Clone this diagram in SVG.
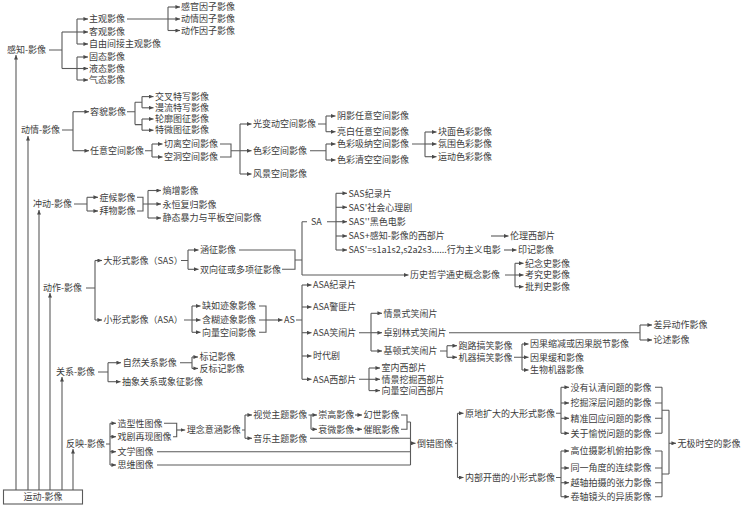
<svg xmlns="http://www.w3.org/2000/svg" width="747" height="507" viewBox="0 0 747 507">
<style>
.t{font-family:"Noto Sans CJK SC","Noto Sans",sans-serif;font-size:9px;fill:#3c3c3c}
.l{fill:none;stroke:#5a5a5a;stroke-width:1.1}
.a{fill:none;stroke:#5a5a5a;stroke-width:1.1;marker-end:url(#ah)}
</style>
<defs>
<marker id="ah" viewBox="0 0 8 7" markerWidth="4.6" markerHeight="4" refX="8" refY="3.5" markerUnits="userSpaceOnUse" orient="auto"><path d="M0,0 L8,3.5 L0,7 z" fill="#4a4a4a"/></marker>
</defs>
<rect width="747" height="507" fill="#fff"/>
<g id="connectors">
<path class="a" d="M16,490 V55"/><path class="a" d="M28,490 V136"/><path class="a" d="M39,490 V210"/><path class="a" d="M50,490 V293"/><path class="a" d="M62,490 V377"/><path class="a" d="M73,490 V449"/>
<path class="l" d="M49,50 H62 M62,32 V68.5 M77,19 V44 M77,57 V80"/>
<path class="a" d="M62,32 H88"/><path class="a" d="M77,19 H88"/><path class="a" d="M77,44 H88"/><path class="a" d="M62,68.5 H88"/><path class="a" d="M77,57 H88"/><path class="a" d="M77,80 H88"/>
<path class="l" d="M127,19 H168 M168,7 V30.5"/>
<path class="a" d="M168,7 H180"/><path class="a" d="M168,19 H180"/><path class="a" d="M168,30.5 H180"/>
<path class="l" d="M62,130 H73 M73,111.7 V150.7"/>
<path class="a" d="M73,111.7 H89"/><path class="a" d="M73,150.7 H89"/>
<path class="l" d="M127,111.7 H135 M135,102.2 V124.6 M135,102.2 H142 M135,124.6 H142 M142,96.6 V107.8 M142,119 V130.2"/>
<path class="a" d="M142,96.6 H153.5"/><path class="a" d="M142,107.8 H153.5"/><path class="a" d="M142,119 H153.5"/><path class="a" d="M142,130.2 H153.5"/>
<path class="l" d="M145,150.7 H152 M152,144 V157"/>
<path class="a" d="M152,144 H162.5"/><path class="a" d="M152,157 H162.5"/>
<path class="l" d="M220,144 H231 V157 H220 M231,150.7 H240 M240,124 V174"/>
<path class="a" d="M240,124 H251.5"/><path class="a" d="M240,150.7 H251.5"/><path class="a" d="M240,174 H251.5"/>
<path class="l" d="M318,124 H326 M326,116 V131.7 M310,150.7 H326 M326,144 V160"/>
<path class="a" d="M326,116 H335.5"/><path class="a" d="M326,131.7 H335.5"/><path class="a" d="M326,144 H335.5"/><path class="a" d="M326,160 H335.5"/>
<path class="l" d="M412,144 H425 M425,132 V156.7"/>
<path class="a" d="M425,132 H436.5"/><path class="a" d="M425,144 H436.5"/><path class="a" d="M425,156.7 H436.5"/>
<path class="l" d="M74,204 H87 M87,197.3 V211"/>
<path class="a" d="M87,197.3 H98"/><path class="a" d="M87,211 H98"/>
<path class="l" d="M137,197.3 H143 V211 H137 M143,204 H148 M148,190.5 V218"/>
<path class="a" d="M148,190.5 H161"/><path class="a" d="M148,204 H161"/><path class="a" d="M148,218 H161"/>
<path class="l" d="M86,288 H95 M95,260.5 V320"/>
<path class="a" d="M95,260.5 H102"/><path class="a" d="M95,320 H102"/>
<path class="l" d="M181,260.5 H188 M188,250 V269.3"/>
<path class="a" d="M188,250 H198.5"/><path class="a" d="M188,269.3 H198.5"/>
<path class="l" d="M239,250 H295 V269.3 H282 M295,260 H302 M302,221.7 V275 M302,221.7 H307 M327,221.7 H336 M336,193.3 V250"/>
<path class="a" d="M336,193.3 H347"/><path class="a" d="M336,207.3 H347"/><path class="a" d="M336,221.7 H347"/><path class="a" d="M336,236 H347"/><path class="a" d="M336,250 H347"/>
<path class="a" d="M302,275 H408.5"/>
<path class="a" d="M491,236 H508.5"/><path class="a" d="M504,250 H516.5"/>
<path class="l" d="M505,275 H515 M515,263.3 V286.7"/>
<path class="a" d="M515,263.3 H523.5"/><path class="a" d="M515,275 H523.5"/><path class="a" d="M515,286.7 H523.5"/>
<path class="l" d="M184,320 H192 M192,306 V332.3"/>
<path class="a" d="M192,306 H200.5"/><path class="a" d="M192,320 H200.5"/><path class="a" d="M192,332.3 H200.5"/>
<path class="l" d="M259,306 H266 V332.3 H259 M259,320 H266"/>
<path class="a" d="M266,320 H282.5"/>
<path class="l" d="M296,320 H302 M302,285 V379.3"/>
<path class="a" d="M302,285 H311.5"/><path class="a" d="M302,307 H311.5"/><path class="a" d="M302,332.7 H311.5"/><path class="a" d="M302,356 H311.5"/><path class="a" d="M302,379.3 H311.5"/>
<path class="l" d="M359,332.7 H371 M371,313.3 V351"/>
<path class="a" d="M371,313.3 H382"/><path class="a" d="M371,332.7 H382"/><path class="a" d="M371,351 H382"/>
<path class="l" d="M449,332.7 H640 M640,325 V340"/>
<path class="a" d="M640,325 H652"/><path class="a" d="M640,340 H652"/>
<path class="l" d="M440,351 H447 M447,345.7 V357.3"/>
<path class="a" d="M447,345.7 H457"/><path class="a" d="M447,357.3 H457"/>
<path class="l" d="M514,357.3 H522 M522,344 V370"/>
<path class="a" d="M522,344 H528.5"/><path class="a" d="M522,357.3 H528.5"/><path class="a" d="M522,370 H528.5"/>
<path class="l" d="M359,379.3 H369 M369,368 V390.6"/>
<path class="a" d="M369,368 H380"/><path class="a" d="M369,379.3 H380"/><path class="a" d="M369,390.6 H380"/>
<path class="l" d="M98,372 H108 M108,362.7 V381.7"/>
<path class="a" d="M108,362.7 H121"/><path class="a" d="M108,381.7 H120.5"/>
<path class="l" d="M180,362.7 H192 M192,357 V368.4"/>
<path class="a" d="M192,357 H198"/><path class="a" d="M192,368.4 H198"/>
<path class="l" d="M106,444 H110 M110,423.3 V465"/>
<path class="a" d="M110,423.3 H116"/><path class="a" d="M110,436.7 H116"/><path class="a" d="M110,451.7 H116"/><path class="a" d="M110,465 H116"/>
<path class="l" d="M164,423.3 H176.7 V436.7 H173"/>
<path class="a" d="M176.7,430 H185.2"/>
<path class="l" d="M242,430 H245 M245,415 V438.3"/>
<path class="a" d="M245,415 H252"/><path class="a" d="M245,438.3 H252"/>
<path class="l" d="M308.5,415 H311 V429.3"/>
<path class="a" d="M311,415 H317"/><path class="a" d="M311,429.3 H317"/>
<path class="a" d="M355,415 H362"/><path class="a" d="M355,429.3 H362"/>
<path class="l" d="M401,415 H407 V429.3 H401 M407,422 H410.5 M410.5,422 V465 M310,438.3 H410.5 M157,451.7 H410.5 M157,465 H410.5"/>
<path class="a" d="M410.5,443.3 H415.5"/>
<path class="l" d="M455,443.3 H457.5 M457.5,413.3 V477.5"/>
<path class="a" d="M457.5,413.3 H463.5"/><path class="a" d="M457.5,477.5 H463.5"/>
<path class="l" d="M556,413.3 H561 M561,387.3 V433.3 M556,477.5 H561 M561,451 V496.7"/>
<path class="a" d="M561,387.3 H569"/><path class="a" d="M561,403 H569"/><path class="a" d="M561,418.3 H569"/><path class="a" d="M561,433.3 H569"/>
<path class="a" d="M561,451 H569"/><path class="a" d="M561,468 H569"/><path class="a" d="M561,482.7 H569"/><path class="a" d="M561,496.7 H569"/>
<path class="l" d="M655,387.3 H662 M655,403 H662 M655,418.3 H662 M655,433.3 H662 M655,451 H662 M655,468 H662 M655,482.7 H662 M655,496.7 H662 M662,387.3 V433.3 M662,451 V496.7 M662,410.3 H669 M662,474 H669 M669,410.3 V474"/>
<path class="a" d="M669,443.3 H676"/>
</g>
<g id="root"><rect x="3.5" y="490" width="79" height="14" fill="#fff" stroke="#5a5a5a" stroke-width="1.1"/><text class="t" x="43" y="500.2" text-anchor="middle">运动-影像</text></g>
<g id="gz"><text class="t" x="7" y="53.2">感知-影像</text></g>
<g id="gz1"><text class="t" x="89" y="22.2">主观影像</text></g>
<g id="gz2"><text class="t" x="89" y="35.2">客观影像</text></g>
<g id="gz3"><text class="t" x="89" y="47.2">自由间接主观影像</text></g>
<g id="gz4"><text class="t" x="89" y="60.2">固态影像</text></g>
<g id="gz5"><text class="t" x="89" y="71.7">液态影像</text></g>
<g id="gz6"><text class="t" x="89" y="83.2">气态影像</text></g>
<g id="gz11"><text class="t" x="181" y="10.2">感官因子影像</text></g>
<g id="gz12"><text class="t" x="181" y="22.2">动情因子影像</text></g>
<g id="gz13"><text class="t" x="181" y="33.7">动作因子影像</text></g>
<g id="dq"><text class="t" x="21" y="133.2">动情-影像</text></g>
<g id="dq1"><text class="t" x="90" y="114.9">容貌影像</text></g>
<g id="dq2"><text class="t" x="90" y="153.9">任意空间影像</text></g>
<g id="dq11"><text class="t" x="155" y="99.8">交叉特写影像</text></g>
<g id="dq12"><text class="t" x="155" y="111">漫流特写影像</text></g>
<g id="dq13"><text class="t" x="155" y="122.2">轮廓图征影像</text></g>
<g id="dq14"><text class="t" x="155" y="133.4">特微图征影像</text></g>
<g id="dq21"><text class="t" x="164" y="147.2">切离空间影像</text></g>
<g id="dq22"><text class="t" x="164" y="160.2">空洞空间影像</text></g>
<g id="dq31"><text class="t" x="253" y="127.2">光变动空间影像</text></g>
<g id="dq32"><text class="t" x="253" y="153.9">色彩空间影像</text></g>
<g id="dq33"><text class="t" x="253" y="177.2">风景空间影像</text></g>
<g id="dq41"><text class="t" x="337" y="119.2">阴影任意空间影像</text></g>
<g id="dq42"><text class="t" x="337" y="134.9">亮白任意空间影像</text></g>
<g id="dq43"><text class="t" x="337" y="147.2">色彩吸纳空间影像</text></g>
<g id="dq44"><text class="t" x="337" y="163.2">色彩清空空间影像</text></g>
<g id="dq51"><text class="t" x="438" y="135.2">块面色彩影像</text></g>
<g id="dq52"><text class="t" x="438" y="147.2">氛围色彩影像</text></g>
<g id="dq53"><text class="t" x="438" y="159.9">运动色彩影像</text></g>
<g id="cd"><text class="t" x="33" y="207.2">冲动-影像</text></g>
<g id="cd1"><text class="t" x="99.5" y="200.5">症候影像</text></g>
<g id="cd2"><text class="t" x="99.5" y="214.2">拜物影像</text></g>
<g id="cd3"><text class="t" x="162.5" y="193.7">熵增影像</text></g>
<g id="cd4"><text class="t" x="162.5" y="207.5">永恒复归影像</text></g>
<g id="cd5"><text class="t" x="162.5" y="221.2">静态暴力与平板空间影像</text></g>
<g id="dz"><text class="t" x="43" y="291.2">动作-影像</text></g>
<g id="dz1"><text class="t" x="103.5" y="263.7">大形式影像（SAS）</text></g>
<g id="dz2"><text class="t" x="103.5" y="323.2">小形式影像（ASA）</text></g>
<g id="dz11"><text class="t" x="200" y="253.2">涵征影像</text></g>
<g id="dz12"><text class="t" x="200" y="272.5">双向征或多项征影像</text></g>
<g id="dzSA"><text class="t" x="311" y="224.9">SA</text></g>
<g id="dzs1"><text class="t" x="348.5" y="196.5">SAS纪录片</text></g>
<g id="dzs2"><text class="t" x="348.5" y="210.5">SAS'社会心理剧</text></g>
<g id="dzs3"><text class="t" x="348.5" y="224.9">SAS''黑色电影</text></g>
<g id="dzs4"><text class="t" x="348.5" y="239.2">SAS+感知-影像的西部片</text></g>
<g id="dzs5"><text class="t" x="348.5" y="253.2">SAS'=s1a1s2,s2a2s3......行为主义电影</text></g>
<g id="dzll"><text class="t" x="510" y="239.2">伦理西部片</text></g>
<g id="dzyj"><text class="t" x="518" y="253.2">印记影像</text></g>
<g id="dzls"><text class="t" x="410" y="278.2">历史哲学通史概念影像</text></g>
<g id="dzjn"><text class="t" x="525" y="266.5">纪念史影像</text></g>
<g id="dzkj"><text class="t" x="525" y="278.2">考究史影像</text></g>
<g id="dzpp"><text class="t" x="525" y="289.9">批判史影像</text></g>
<g id="dz21"><text class="t" x="202" y="309.2">缺如迹象影像</text></g>
<g id="dz22"><text class="t" x="202" y="323.2">含糊迹象影像</text></g>
<g id="dz23"><text class="t" x="202" y="335.5">向量空间影像</text></g>
<g id="dzAS"><text class="t" x="284" y="323.2">AS</text></g>
<g id="dza1"><text class="t" x="313" y="288.2">ASA纪录片</text></g>
<g id="dza2"><text class="t" x="313" y="310.2">ASA警匪片</text></g>
<g id="dza3"><text class="t" x="313" y="335.9">ASA笑闹片</text></g>
<g id="dza4"><text class="t" x="313" y="359.2">时代剧</text></g>
<g id="dza5"><text class="t" x="313" y="382.5">ASA西部片</text></g>
<g id="dzx1"><text class="t" x="383.5" y="316.5">情景式笑闹片</text></g>
<g id="dzx2"><text class="t" x="383.5" y="335.9">卓别林式笑闹片</text></g>
<g id="dzx3"><text class="t" x="383.5" y="354.2">基顿式笑闹片</text></g>
<g id="dzc1"><text class="t" x="653.5" y="328.2">差异动作影像</text></g>
<g id="dzc2"><text class="t" x="653.5" y="343.2">论述影像</text></g>
<g id="dzp1"><text class="t" x="458.5" y="348.9">跑路搞笑影像</text></g>
<g id="dzp2"><text class="t" x="458.5" y="360.5">机器搞笑影像</text></g>
<g id="dzy1"><text class="t" x="530" y="347.2">因果缩减或因果脱节影像</text></g>
<g id="dzy2"><text class="t" x="530" y="360.5">因果缓和影像</text></g>
<g id="dzy3"><text class="t" x="530" y="373.2">生物机器影像</text></g>
<g id="dzw1"><text class="t" x="381.5" y="371.2">室内西部片</text></g>
<g id="dzw2"><text class="t" x="381.5" y="382.5">情景挖掘西部片</text></g>
<g id="dzw3"><text class="t" x="381.5" y="393.8">向量空间西部片</text></g>
<g id="gx"><text class="t" x="56" y="375.2">关系-影像</text></g>
<g id="gx1"><text class="t" x="122.7" y="365.9">自然关系影像</text></g>
<g id="gx2"><text class="t" x="122" y="384.9">抽象关系或象征影像</text></g>
<g id="gx3"><text class="t" x="199.5" y="360.2">标记影像</text></g>
<g id="gx4"><text class="t" x="199.5" y="371.6">反标记影像</text></g>
<g id="fy"><text class="t" x="66" y="447.2">反映-影像</text></g>
<g id="fy1"><text class="t" x="117.5" y="426.5">造型性图像</text></g>
<g id="fy2"><text class="t" x="117.5" y="439.9">戏剧再现图像</text></g>
<g id="fy3"><text class="t" x="117.5" y="454.9">文学图像</text></g>
<g id="fy4"><text class="t" x="117.5" y="468.2">思维图像</text></g>
<g id="fy5"><text class="t" x="186.7" y="433.2">理念意涵影像</text></g>
<g id="fy6"><text class="t" x="253.3" y="418.2">视觉主题影像</text></g>
<g id="fy7"><text class="t" x="253.3" y="441.5">音乐主题影像</text></g>
<g id="fy8"><text class="t" x="318.3" y="418.2">崇高影像</text></g>
<g id="fy9"><text class="t" x="318.3" y="432.5">衰微影像</text></g>
<g id="fy10"><text class="t" x="363.5" y="418.2">幻世影像</text></g>
<g id="fy11"><text class="t" x="363.5" y="432.5">催眠影像</text></g>
<g id="fy12"><text class="t" x="417" y="446.5">倒错图像</text></g>
<g id="fy13"><text class="t" x="465" y="416.5">原地扩大的大形式影像</text></g>
<g id="fy14"><text class="t" x="465" y="480.7">内部开凿的小形式影像</text></g>
<g id="fy15"><text class="t" x="570.5" y="390.5">没有认清问题的影像</text></g>
<g id="fy16"><text class="t" x="570.5" y="406.2">挖掘深层问题的影像</text></g>
<g id="fy17"><text class="t" x="570.5" y="421.5">精准回应问题的影像</text></g>
<g id="fy18"><text class="t" x="570.5" y="436.5">关于愉悦问题的影像</text></g>
<g id="fy19"><text class="t" x="570.5" y="454.2">高位摄影机俯拍影像</text></g>
<g id="fy20"><text class="t" x="570.5" y="471.2">同一角度的连续影像</text></g>
<g id="fy21"><text class="t" x="570.5" y="485.9">越轴拍摄的张力影像</text></g>
<g id="fy22"><text class="t" x="570.5" y="499.9">卷轴镜头的异质影像</text></g>
<g id="fy23"><text class="t" x="677.5" y="446.5">无极时空的影像</text></g>
</svg>
